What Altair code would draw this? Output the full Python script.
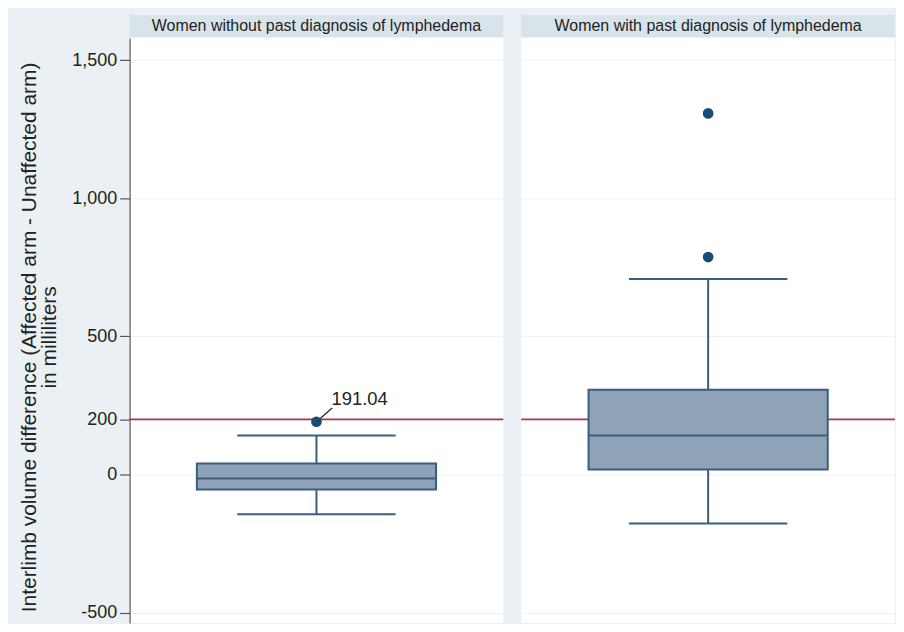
import altair as alt
import pandas as pd

# ---- data ----
groups = ["Women without past diagnosis of lymphedema",
          "Women with past diagnosis of lymphedema"]
whisker_low = [-144, -177]
q1 = [-54, 18]
median = [-14, 141]
q3 = [40, 307]
whisker_high = [141, 708]
outliers = [[191.04], [787, 1307]]
reference_value = 200
annotated = 191.04
y_ticks = [-500, 0, 200, 500, 1000, 1500]

# ---- style ----
W = 375
H = 587
HEADER_H = 22
Y_DOMAIN = [-537, 1580]
CENTER = 0.5
BOX_HALF = 0.32
CAP_HALF = 0.212
BOX_FILL = "#8ea3b8"
BOX_STROKE = "#3b5e7f"
DOT = "#1b4a73"
RED = "#b8324f"
BG = "#eaf0f3"
STRIP = "#d9e3ea"
FONT = "Liberation Sans"

xs = alt.Scale(domain=[0, 1])
ys = alt.Scale(domain=Y_DOMAIN, nice=False, zero=False)
LABEL_EXPR = "replace(format(datum.value, ','), '\u2212', '-')"


def panel(i):
    box = pd.DataFrame({
        "x1": [CENTER - BOX_HALF], "x2": [CENTER + BOX_HALF],
        "c1": [CENTER - CAP_HALF], "c2": [CENTER + CAP_HALF],
        "xc": [CENTER],
        "lo": [whisker_low[i]], "q1": [q1[i]], "med": [median[i]],
        "q3": [q3[i]], "hi": [whisker_high[i]],
    })
    out = pd.DataFrame({"xc": [CENTER] * len(outliers[i]), "v": outliers[i]})
    ref = pd.DataFrame({"v": [reference_value]})

    if i == 0:
        yaxis = alt.Axis(values=y_ticks, labelExpr=LABEL_EXPR, grid=True, gridColor="#eef2f4",
                         gridWidth=1, domainColor="#555555", domainWidth=1.2,
                         tickColor="#555555", tickSize=10, tickWidth=1.2,
                         labelFontSize=18, labelColor="#222222", labelFont=FONT,
                         labelPadding=3,
                         title=["Interlimb volume difference (Affected arm - Unaffected arm)",
                                "in milliliters"],
                         titleFontSize=21, titleFont=FONT, titleFontWeight="normal",
                         titleColor="#222222", titlePadding=12, titleLineHeight=20,
                         titleY=300)
    else:
        yaxis = alt.Axis(values=y_ticks, grid=True, gridColor="#eef2f4", domain=False,
                         ticks=False, labels=False, title=None)

    def Y(f):
        return alt.Y(f, scale=ys, axis=yaxis)

    X = lambda f: alt.X(f, scale=xs, axis=None)

    refline = alt.Chart(ref).mark_rule(color=RED, strokeWidth=1.8).encode(y=Y("v:Q"))

    whisk_lo = alt.Chart(box).mark_rule(color=BOX_STROKE, strokeWidth=2).encode(
        x=X("xc:Q"), y=Y("lo:Q"), y2="q1:Q")
    whisk_hi = alt.Chart(box).mark_rule(color=BOX_STROKE, strokeWidth=2).encode(
        x=X("xc:Q"), y=Y("q3:Q"), y2="hi:Q")
    cap_lo = alt.Chart(box).mark_rule(color=BOX_STROKE, strokeWidth=2).encode(
        x=X("c1:Q"), x2="c2:Q", y=Y("lo:Q"))
    cap_hi = alt.Chart(box).mark_rule(color=BOX_STROKE, strokeWidth=2).encode(
        x=X("c1:Q"), x2="c2:Q", y=Y("hi:Q"))
    rect = alt.Chart(box).mark_rect(fill=BOX_FILL, stroke=BOX_STROKE, strokeWidth=2).encode(
        x=X("x1:Q"), x2="x2:Q", y=Y("q1:Q"), y2="q3:Q")
    med = alt.Chart(box).mark_rule(color=BOX_STROKE, strokeWidth=2).encode(
        x=X("x1:Q"), x2="x2:Q", y=Y("med:Q"))
    dots = alt.Chart(out).mark_circle(color=DOT, opacity=1, size=115).encode(
        x=X("xc:Q"), y=Y("v:Q"))

    layers = [refline, whisk_lo, whisk_hi, cap_lo, cap_hi, rect, med]

    if i == 0:
        ann = pd.DataFrame({"x": [CENTER], "v": [annotated],
                            "x2": [CENTER + 0.042], "v2": [annotated + 50],
                            "tx": [CENTER + 0.04], "tv": [annotated + 82],
                            "label": [f"{annotated:.2f}"]})
        leader = alt.Chart(ann).mark_rule(color="#222222", strokeWidth=1.2).encode(
            x=X("x:Q"), x2="x2:Q", y=Y("v:Q"), y2="v2:Q")
        label = alt.Chart(ann).mark_text(align="left", baseline="middle", fontSize=18.5,
                                         font=FONT, color="#222222").encode(
            x=X("tx:Q"), y=Y("tv:Q"), text="label:N")
        layers += [leader, label]

    layers.append(dots)

    body = alt.layer(*layers).properties(
        width=W, height=H,
        view=alt.ViewBackground(fill="white", stroke=None))

    header = alt.Chart(pd.DataFrame({"label": [groups[i]]})).mark_text(
        fontSize=16, font=FONT, color="#222222", baseline="middle").encode(
        text="label:N").properties(
        width=W, height=HEADER_H,
        view=alt.ViewBackground(fill=STRIP, stroke=None))

    return alt.vconcat(header, body, spacing=1)


chart = alt.hconcat(panel(0), panel(1), spacing=16).properties(
    background=BG, padding={"left": 10, "top": 6, "right": 0, "bottom": 0}
).configure_view(stroke=None)

chart.save("out.html", embed_options={"renderer": "svg", "actions": False})
